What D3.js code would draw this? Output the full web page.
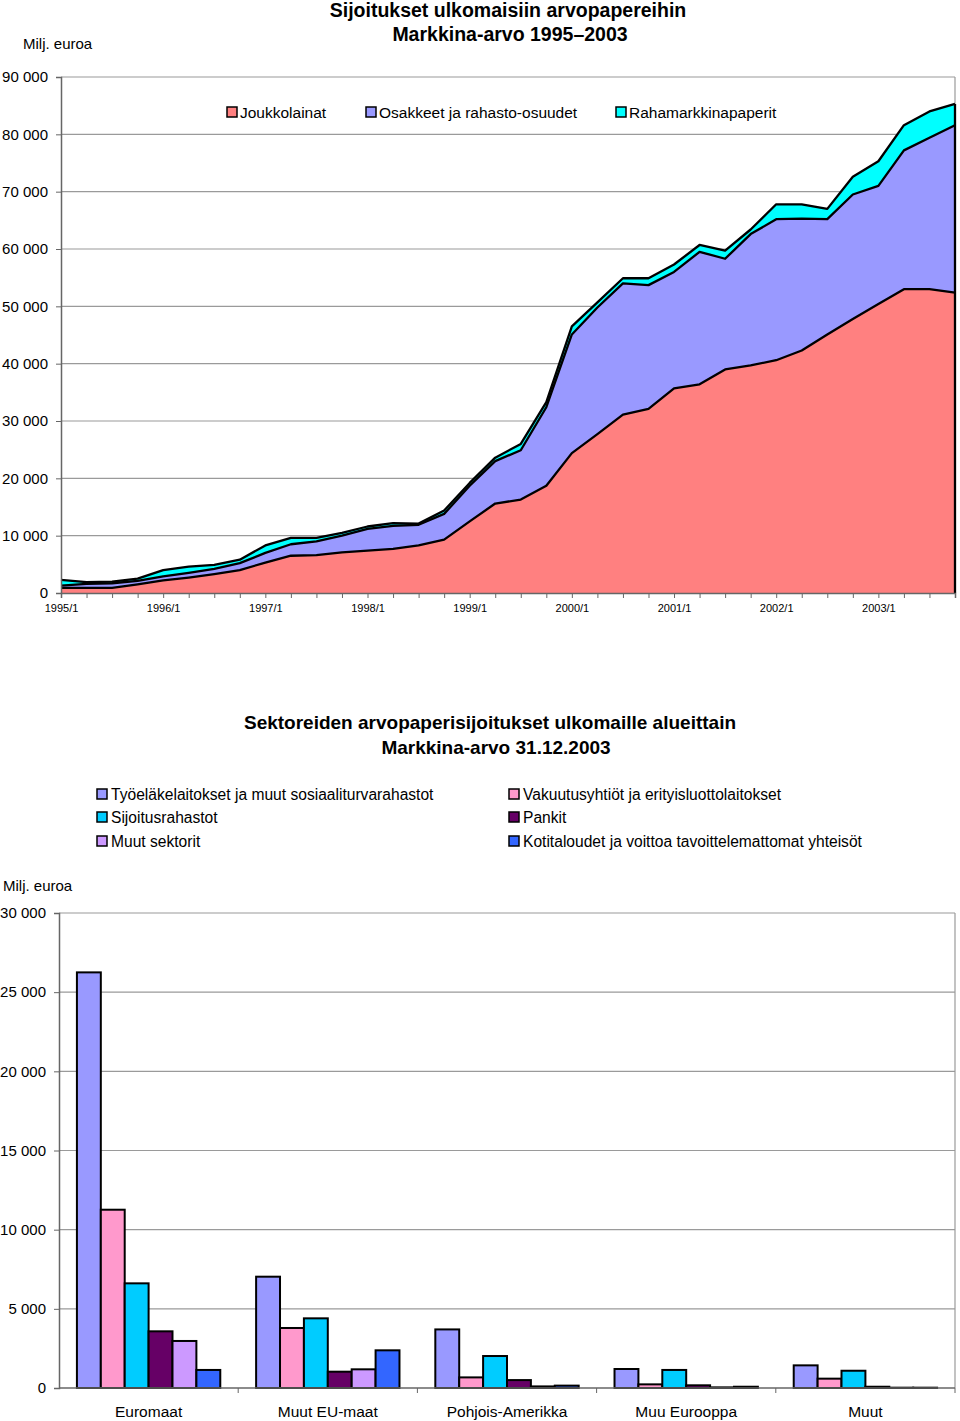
<!DOCTYPE html>
<html><head><meta charset="utf-8">
<script src="https://cdn.jsdelivr.net/npm/d3@7"></script>
<style>body{margin:0;background:#fff}svg{display:block}text{font-family:"Liberation Sans",Arial,sans-serif;fill:#000}</style>
</head><body>
<script>
// ---------- Data: top chart ----------
const periods = ["1995/1","1995/2","1995/3","1995/4","1996/1","1996/2","1996/3","1996/4","1997/1","1997/2","1997/3","1997/4",
"1998/1","1998/2","1998/3","1998/4","1999/1","1999/2","1999/3","1999/4","2000/1","2000/2","2000/3","2000/4",
"2001/1","2001/2","2001/3","2001/4","2002/1","2002/2","2002/3","2002/4","2003/1","2003/2","2003/3","2003/4"];
const yearTickLabels = ["1995/1","1996/1","1997/1","1998/1","1999/1","2000/1","2001/1","2002/1","2003/1"];
const areaSeriesNames = ["Joukkolainat","Osakkeet ja rahasto-osuudet","Rahamarkkinapaperit"];
const joukkolainat = [900,900,900,1500,2200,2700,3300,4000,5300,6500,6600,7100,7400,7700,8300,9300,12500,15600,16300,18700,24400,27700,31100,32100,35700,36400,39000,39700,40600,42300,45100,47800,50400,53000,53000,52400];
const osakkeet = [400,700,800,600,700,800,900,1200,1700,2000,2400,2900,3800,4000,3600,4500,6200,7400,8600,13700,20700,22100,22900,21600,20300,23100,19300,22900,24600,23000,20100,21700,20600,24200,26400,29200];
const rahamarkkina = [1000,300,300,400,1100,1100,700,600,1300,1100,600,500,400,500,200,600,500,600,1100,900,1400,900,900,1200,1300,1200,1400,800,2600,2500,1800,3100,4300,4400,4600,3700];
const areaYTicks = [0,10000,20000,30000,40000,50000,60000,70000,80000,90000];

// ---------- Data: bar chart ----------
const regions = ["Euromaat","Muut EU-maat","Pohjois-Amerikka","Muu Eurooppa","Muut"];
const sectors = ["Työeläkelaitokset ja muut sosiaaliturvarahastot","Vakuutusyhtiöt ja erityisluottolaitokset","Sijoitusrahastot","Pankit","Muut sektorit","Kotitaloudet ja voittoa tavoittelemattomat yhteisöt"];
const tyoelake = [26250,7030,3700,1200,1430];
const vakuutus = [11260,3790,670,230,590];
const sijoitusrahastot = [6610,4400,2020,1140,1090];
const pankit = [3580,1030,500,170,80];
const muutSektorit = [2970,1180,100,40,20];
const kotitaloudet = [1140,2380,150,80,20];
const barYTicks = [0,5000,10000,15000,20000,25000,30000];

const areaColors = ["#FF8080","#9999FF","#00FFFF"];
const barColors = ["#9999FF","#FF99CC","#00CCFF","#660066","#CC99FF","#3366FF"];

const fmt = v => d3.format(",")(v).replace(/,/g," ");

const svg = d3.select("body").append("svg").attr("width",960).attr("height",1421);

// ================= TOP CHART =================
const A = {l:61, r:955, t:77, b:593};
const ax = d3.scalePoint().domain(periods).range([A.l, A.r]);
const ay = d3.scaleLinear().domain([0,90000]).range([A.b, A.t]);

svg.append("text").attr("x",508).attr("y",17).attr("text-anchor","middle").attr("font-size",19.5).attr("font-weight","bold").text("Sijoitukset ulkomaisiin arvopapereihin");
svg.append("text").attr("x",510).attr("y",41).attr("text-anchor","middle").attr("font-size",19.5).attr("font-weight","bold").text("Markkina-arvo 1995–2003");
svg.append("text").attr("x",23).attr("y",49).attr("font-size",15).text("Milj. euroa");

const gA = svg.append("g");
gA.selectAll("line.grid").data(areaYTicks.filter(d=>d>0)).join("line")
  .attr("x1",A.l).attr("x2",A.r).attr("y1",d=>ay(d)).attr("y2",d=>ay(d))
  .attr("stroke","#9a9a9a").attr("stroke-width",1.2);
gA.append("line").attr("x1",A.r).attr("x2",A.r).attr("y1",A.t).attr("y2",A.b).attr("stroke","#9a9a9a").attr("stroke-width",1.2);

const rows = periods.map((p,i)=>({p, a:joukkolainat[i], b:osakkeet[i], c:rahamarkkina[i]}));
const stack = d3.stack().keys(["a","b","c"])(rows);
const area = d3.area().x(d=>ax(d.data.p)).y0(d=>ay(d[0])).y1(d=>ay(d[1]));
const line = d3.line().x(d=>ax(d.data.p)).y(d=>ay(d[1]));
gA.selectAll("path.area").data(stack).join("path")
  .attr("d",area).attr("fill",(d,i)=>areaColors[i]).attr("stroke","none");
gA.selectAll("path.top").data(stack).join("path")
  .attr("d",line).attr("fill","none").attr("stroke","#000").attr("stroke-width",2.3).attr("stroke-linejoin","round");
gA.append("line").attr("x1",A.r).attr("x2",A.r).attr("y1",ay(stack[2][35][1])).attr("y2",A.b).attr("stroke","#000").attr("stroke-width",2.3);

const yAxA = d3.axisLeft(ay).tickValues(areaYTicks).tickFormat(fmt).tickSize(5).tickPadding(8);
const gya = gA.append("g").attr("transform",`translate(${A.l},0)`).call(yAxA);
gya.select(".domain").attr("stroke","#666").attr("stroke-width",1.5);
gya.selectAll(".tick line").attr("stroke","#666");
gya.selectAll(".tick text").attr("font-size",15).attr("font-family","Liberation Sans, Arial, sans-serif").attr("fill","#000");

const xAxA = d3.axisBottom(ax).tickSize(5).tickPadding(6).tickFormat(d=>yearTickLabels.includes(d)?d:"");
const gxa = gA.append("g").attr("transform",`translate(0,${A.b})`).call(xAxA);
gxa.select(".domain").attr("stroke","#666").attr("stroke-width",1.5);
gxa.selectAll(".tick line").attr("stroke","#666");
gxa.selectAll(".tick text").attr("font-size",11).attr("font-family","Liberation Sans, Arial, sans-serif").attr("fill","#000");

const legA = [{x:227},{x:366},{x:616}];
areaSeriesNames.forEach((n,i)=>{
  svg.append("rect").attr("x",legA[i].x).attr("y",107).attr("width",10).attr("height",10)
    .attr("fill",areaColors[i]).attr("stroke","#000").attr("stroke-width",1.5);
  svg.append("text").attr("x",legA[i].x+13).attr("y",118).attr("font-size",15.5).text(n);
});

// ================= BAR CHART =================
const B = {l:59, r:955, t:913, b:1388};
const bx = d3.scaleBand().domain(regions).range([B.l,B.r]).paddingInner(0).paddingOuter(0);
const by = d3.scaleLinear().domain([0,30000]).range([B.b,B.t]);
// Excel gap width 150%: bar width = band/(n+1.5)
const nS = sectors.length;
const barW = bx.bandwidth()/(nS+1.5);
const sx = d3.scaleBand().domain(sectors).range([barW*0.75, barW*0.75+barW*nS]);

svg.append("text").attr("x",490).attr("y",729).attr("text-anchor","middle").attr("font-size",19).attr("font-weight","bold").text("Sektoreiden arvopaperisijoitukset ulkomaille alueittain");
svg.append("text").attr("x",496).attr("y",754).attr("text-anchor","middle").attr("font-size",19).attr("font-weight","bold").text("Markkina-arvo 31.12.2003");
svg.append("text").attr("x",3).attr("y",891).attr("font-size",15).text("Milj. euroa");

const legPos = [{x:97,y:789},{x:509,y:789},{x:97,y:812},{x:509,y:812},{x:97,y:836},{x:509,y:836}];
sectors.forEach((n,i)=>{
  svg.append("rect").attr("x",legPos[i].x).attr("y",legPos[i].y).attr("width",10).attr("height",10)
    .attr("fill",barColors[i]).attr("stroke","#000").attr("stroke-width",1.5);
  svg.append("text").attr("x",legPos[i].x+14).attr("y",legPos[i].y+11).attr("font-size",15.6).text(n);
});

const gB = svg.append("g");
gB.selectAll("line.grid").data(barYTicks.filter(d=>d>0)).join("line")
  .attr("x1",B.l).attr("x2",B.r).attr("y1",d=>by(d)).attr("y2",d=>by(d))
  .attr("stroke","#9a9a9a").attr("stroke-width",1.2);
gB.append("line").attr("x1",B.r).attr("x2",B.r).attr("y1",B.t).attr("y2",B.b).attr("stroke","#9a9a9a").attr("stroke-width",1.2);

const seriesVals = [tyoelake,vakuutus,sijoitusrahastot,pankit,muutSektorit,kotitaloudet];
regions.forEach((r,ri)=>{
  sectors.forEach((s,si)=>{
    const v = seriesVals[si][ri];
    gB.append("rect").attr("x",bx(r)+sx(s)).attr("y",by(v)).attr("width",sx.bandwidth()).attr("height",by(0)-by(v))
      .attr("fill",barColors[si]).attr("stroke","#000").attr("stroke-width",2);
  });
});

const yAxB = d3.axisLeft(by).tickValues(barYTicks).tickFormat(fmt).tickSize(5).tickPadding(8);
const gyb = gB.append("g").attr("transform",`translate(${B.l},0)`).call(yAxB);
gyb.select(".domain").attr("stroke","#666").attr("stroke-width",1.5);
gyb.selectAll(".tick line").attr("stroke","#666");
gyb.selectAll(".tick text").attr("font-size",15).attr("font-family","Liberation Sans, Arial, sans-serif").attr("fill","#000");

gB.append("line").attr("x1",B.l).attr("x2",B.r).attr("y1",B.b).attr("y2",B.b).attr("stroke","#666").attr("stroke-width",1.5);
gB.selectAll("line.ctick").data(regions).join("line")
  .attr("x1",d=>bx(d)+bx.bandwidth()).attr("x2",d=>bx(d)+bx.bandwidth()).attr("y1",B.b).attr("y2",B.b+5).attr("stroke","#666");
gB.selectAll("text.cat").data(regions).join("text")
  .attr("x",d=>bx(d)+bx.bandwidth()/2).attr("y",1417).attr("text-anchor","middle").attr("font-size",15.5).text(d=>d);
</script>
</body></html>
